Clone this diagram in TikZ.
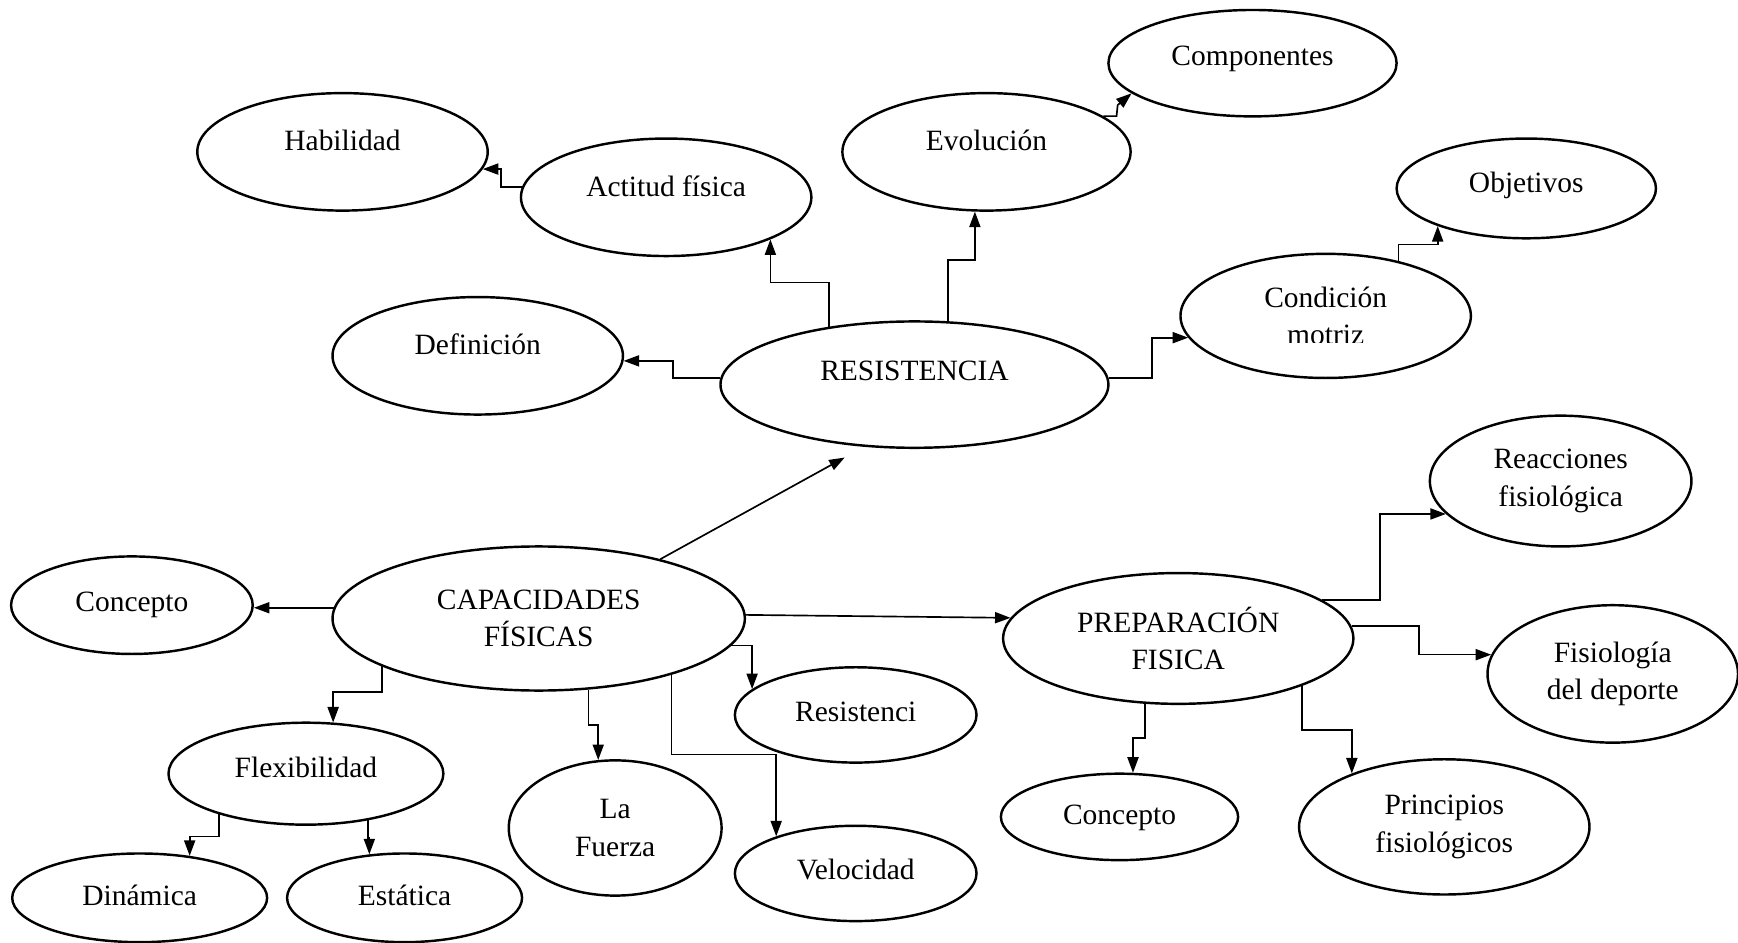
\documentclass[tikz,border=0pt]{standalone}
\usepackage{fontspec}
\setmainfont{Liberation Serif}
\usetikzlibrary{shapes.geometric, arrows.meta, calc}

\begin{document}
\begin{tikzpicture}[x=1pt, y=-1pt,
    burbuja/.style={ellipse, draw, line width=2.2pt, inner sep=0pt, align=center,
        font=\fontsize{26.6}{34}\selectfont},
    sube/.style={text height=19pt, text depth=#1},
    flecha/.style={line width=1.5pt, -{Triangle[length=14pt,width=10pt]}}]
    \useasboundingbox (0,0) rectangle (1568,850);

    \node[burbuja, minimum width=262pt, minimum height=106pt, sube=22pt] (habil) at (309,137) {Habilidad};
    \node[burbuja, minimum width=262pt, minimum height=106pt, sube=20pt] (actitud) at (601,178) {Actitud física};
    \node[burbuja, minimum width=262pt, minimum height=106pt, sube=22pt] (defin) at (431,321) {Definición};
    \node[burbuja, minimum width=350pt, minimum height=114pt, sube=26pt] (resist) at (825,347) {RESISTENCIA};
    \node[burbuja, minimum width=260pt, minimum height=106pt, sube=22pt] (evol) at (890,137) {Evolución};
    \node[burbuja, minimum width=260pt, minimum height=96pt, sube=14pt] (compon) at (1130,57) {Componentes};
    \node[burbuja, minimum width=234pt, minimum height=90pt, sube=12pt] (objet) at (1377,170) {Objetivos};
    \node[burbuja, minimum width=262pt, minimum height=112pt] (condic) at (1196,285) {Condición\\motriz};
    \fill[white] ($(condic.center)+(-70,24)$) rectangle ($(condic.center)+(70,42)$);
    \node[burbuja, minimum width=236pt, minimum height=118pt] (reacc) at (1408,434) {Reacciones\\fisiológica};

    \node[burbuja, minimum width=372pt, minimum height=130pt] (capac) at (486,558) {CAPACIDADES\\FÍSICAS};
    \node[burbuja, minimum width=218pt, minimum height=88pt, sube=8pt] (concL) at (119,546) {Concepto};
    \node[burbuja, minimum width=248pt, minimum height=92pt, sube=12pt] (flex) at (276,698) {Flexibilidad};
    \node[burbuja, minimum width=230pt, minimum height=80pt, sube=6pt] (dinam) at (126,810) {Dinámica};
    \node[burbuja, minimum width=212pt, minimum height=80pt, sube=6pt] (estat) at (365,810) {Estática};
    \node[burbuja, minimum width=192pt, minimum height=122pt] (fuerza) at (555,747) {La\\Fuerza};
    \node[burbuja, minimum width=218pt, minimum height=86pt, sube=8pt] (resisti) at (772,645) {Resistenci};
    \node[burbuja, minimum width=218pt, minimum height=86pt, sube=8pt] (veloc) at (772,788) {Velocidad};

    \node[burbuja, minimum width=316pt, minimum height=118pt] (prep) at (1063,576) {PREPARACIÓN\\FISICA};
    \node[burbuja, minimum width=226pt, minimum height=124pt] (fisio) at (1455,608) {Fisiología\\del deporte};
    \node[burbuja, minimum width=214pt, minimum height=78pt, sube=6pt] (concR) at (1010,737) {Concepto};
    \node[burbuja, minimum width=262pt, minimum height=122pt] (princ) at (1303,746) {Principios\\fisiológicos};

    % RESISTENCIA
    \draw[flecha] (resist.178) -- ++(-43,0) |- (defin.-2);
    \draw[flecha] (resist.146) -- ++(0,-40) -| (actitud.-22);
    \draw[flecha] (resist.62) -- ++(0,-55) -| (evol.-101);
    \draw[flecha] (resist.2) -- ++(39,0) |- (condic.189);
    \draw[flecha] (actitud.176) -- ++(-19,0) |- (habil.-7);
    \draw[flecha] (evol.17) -- ++(12,0) -- ++(1,-10) -- (compon.-166);
    \draw[flecha] (condic.37) -- ++(0,-15) -| (objet.-157);

    % CAPACIDADES FISICAS
    \draw[flecha, shorten >=20pt] (capac.26) -- (resist.-129);
    \draw[flecha] (capac.177) -- (capac.177 -| concL.east);
    \draw[flecha] (capac.1) -- (prep.173);
    \draw[flecha] (capac.-163) -- ++(0,23) -| (flex.62);
    \draw[flecha] (capac.-55) -- ++(0,32) -| (fuerza.104);
    \draw[flecha] (capac.-8) -| (resisti.166);
    \draw[flecha] (capac.-23) -- ++(0,72) -| (veloc.155);
    \draw[flecha] (flex.-155) -- ++(0,20) -| (dinam.40);
    \draw[flecha] (flex.-37) -- ++(0,16) -| (estat.129);

    % PREPARACION FISICA
    \draw[flecha] (prep.15) -- ++(52,0) |- (reacc.-164);
    \draw[flecha] (prep.4) -- ++(61,0) |- (fisio.171);
    \draw[flecha] (prep.-117) -- ++(0,31) -| (concR.73);
    \draw[flecha] (prep.-21) -- ++(0,40) -| (princ.150);
\end{tikzpicture}
\end{document}
